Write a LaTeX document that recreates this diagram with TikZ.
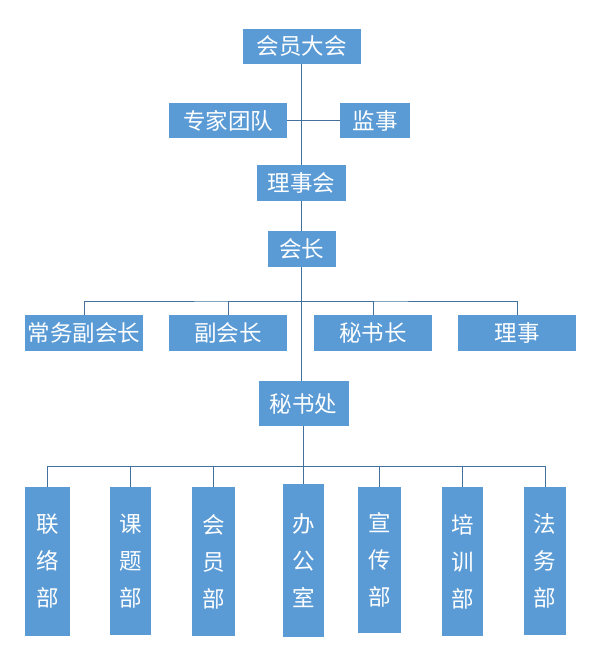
\documentclass[tikz,border=0pt]{standalone}
\usepackage{fontspec}
\newfontfamily\cjk{Noto Sans CJK SC}
\definecolor{boxblue}{HTML}{5B9BD5}
\definecolor{lineblue}{HTML}{41719C}

\begin{document}
\begin{tikzpicture}[x=1pt, y=1pt,
	box/.style = {fill = boxblue, text = white, inner sep = 0pt, font = \cjk\fontsize{22.5}{26}\selectfont},
	dept/.style = {box, align = center, font = \cjk\fontsize{22.5}{37}\selectfont},
	link/.style = {draw = lineblue, line width = 0.9pt}]
	\useasboundingbox (0,0) rectangle (591,653);
	\node[box, minimum width = 118pt, minimum height = 35pt] (gm) at (301.5,606.5) {会员大会};
	\node[box, minimum width = 118pt, minimum height = 35pt] (expert) at (228,532.5) {专家团队};
	\node[box, minimum width = 70pt, minimum height = 35pt] (super) at (375,532.5) {监事};
	\node[box, minimum width = 89pt, minimum height = 36pt] (council) at (301.5,470) {理事会};
	\node[box, minimum width = 68pt, minimum height = 36pt] (pres) at (301.5,404) {会长};
	\node[box, minimum width = 118pt, minimum height = 36pt] (cwfhz) at (84,320) {常务副会长};
	\node[box, minimum width = 118pt, minimum height = 36pt] (fhz) at (228,320) {副会长};
	\node[box, minimum width = 118pt, minimum height = 36pt] (msz) at (373,320) {秘书长};
	\node[box, minimum width = 118pt, minimum height = 36pt] (lishi) at (517,320) {理事};
	\node[box, minimum width = 90pt, minimum height = 45pt] (msc) at (303.5,249.5) {秘书处};
	\node[dept, minimum width = 45pt, minimum height = 149pt] (llb) at (47.5,91.5) {联\\络\\部};
	\node[dept, minimum width = 41pt, minimum height = 148pt] (ktb) at (130.5,92) {课\\题\\部};
	\node[dept, minimum width = 43pt, minimum height = 149pt] (hyb) at (213.5,91.5) {会\\员\\部};
	\node[dept, minimum width = 41pt, minimum height = 153pt] (bgs) at (303.5,92.5) {办\\公\\室};
	\node[dept, minimum width = 43pt, minimum height = 146pt] (xcb) at (379.5,93) {宣\\传\\部};
	\node[dept, minimum width = 41pt, minimum height = 149pt] (pxb) at (462.5,91.5) {培\\训\\部};
	\node[dept, minimum width = 42pt, minimum height = 148pt] (fwb) at (545,92) {法\\务\\部};
	\coordinate (bus1) at (301.5,352);
	\coordinate (bus2) at (303.5,186.3);
	\draw[link] (gm) -- (council);
	\draw[link] (expert) -- (super);
	\draw[link] (council) -- (pres);
	\draw[link] (pres) -- (pres |- msc.north);
	\draw[link] (cwfhz) |- (bus1) -| (lishi);
	\draw[link] (fhz) |- (bus1);
	\draw[link] (msz) |- (bus1);
	\draw[link] (msc) -- (bgs);
	\draw[link] (llb) |- (bus2) -| (fwb);
	\draw[link] (ktb) |- (bus2);
	\draw[link] (hyb) |- (bus2);
	\draw[link] (xcb) |- (bus2);
	\draw[link] (pxb) |- (bus2);
\end{tikzpicture}
\end{document}
